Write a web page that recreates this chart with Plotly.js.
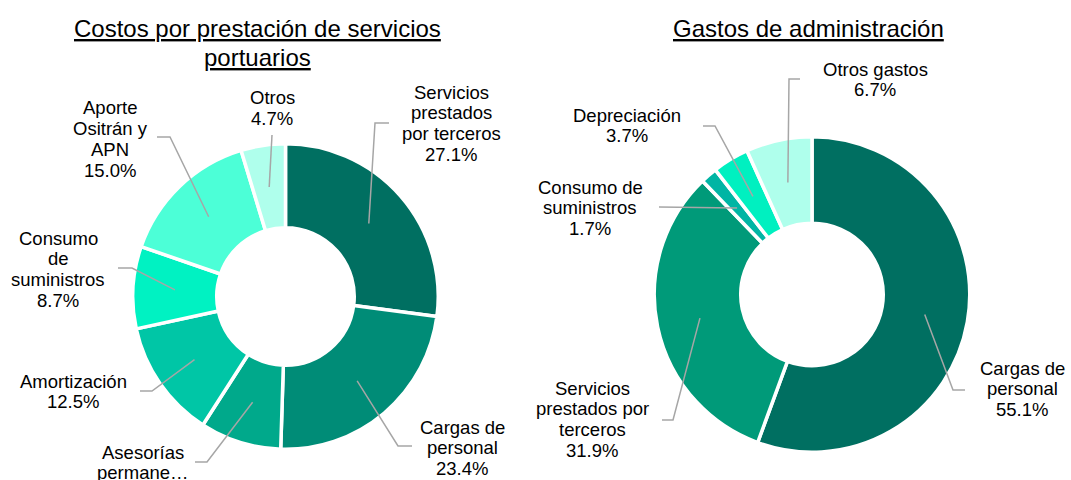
<!DOCTYPE html>
<html>
<head>
<meta charset="utf-8">
<script src="https://cdn.plot.ly/plotly-3.0.1.min.js"></script>
<style>html,body{margin:0;padding:0;background:#fff;}#chart{width:1071px;height:480px;}</style>
</head>
<body>
<div id="chart"></div>
<script>
// ---- Data ----
const leftTitle = ['Costos por prestación de servicios', 'portuarios'];
const leftCategories = ['Servicios prestados por terceros', 'Cargas de personal', 'Asesorías permanentes', 'Amortización', 'Consumo de suministros', 'Aporte Ositrán y APN', 'Otros'];
const leftValues = [27.1, 23.4, 8.6, 12.5, 8.7, 15.0, 4.7];
const leftLabelText = ['Servicios<br>prestados<br>por terceros', 'Cargas de<br>personal', 'Asesorías<br>permane…', 'Amortización', 'Consumo<br>de<br>suministros', 'Aporte<br>Ositrán y<br>APN', 'Otros'];

const rightTitle = ['Gastos de administración'];
const rightCategories = ['Cargas de personal', 'Servicios prestados por terceros', 'Consumo de suministros', 'Depreciación', 'Otros gastos'];
const rightValues = [55.1, 31.9, 1.7, 3.7, 6.7];
const rightLabelText = ['Cargas de<br>personal', 'Servicios<br>prestados por<br>terceros', 'Consumo de<br>suministros', 'Depreciación', 'Otros gastos'];

// ---- Styles / layout (pixels) ----
const W = 1071, H = 480;
const leftColors = ['#006F61', '#008C77', '#00A98B', '#00C6A6', '#00F2C2', '#4CFFD7', '#AFFFEC'];
const rightColors = ['#006F61', '#009A79', '#00B5A4', '#00F0C0', '#AFFFEC'];
const GAP = 3.5;
const leftPie = {cx: 285.5, cy: 296.5, r: 151, hole: 70.5};
const rightPie = {cx: 812, cy: 294.5, r: 156, hole: 73};
const leftLabelPos = [[451, 92], [462, 427], [143, 452], [73, 381], [58, 238], [110, 108], [272, 98]];
const leftLeader = [[375, 123, 389, 123], [398, 446, 412, 446], [207, 462, 195, 462], [152, 391, 140, 391], [132, 268, 118, 268], [170, 137, 157, 137], [272, 135, 272, 135]];
const rightLabelPos = [[1022, 368], [592, 388], [590, 187], [627, 115], [875, 69]];
const rightLeader = [[953, 390, 965, 390], [673, 420, 662, 420], [659, 207, 659, 207], [715, 126, 703, 126], [789, 79, 800, 79]];
const LABEL_FONT = 18.5, LABEL_LS = 20.8;
const TITLE_FONT = 24, TITLE_LS = 29;
const FONT = '"Liberation Sans", Arial, sans-serif';

const px = x => x / W;
const py = y => 1 - y / H;

function pieTrace(cats, vals, colors, g) {
  const R = g.r + GAP / 2;
  const hole = (g.hole - GAP / 2) / R;
  return {
    type: 'pie', labels: cats, values: vals, sort: false, direction: 'clockwise', rotation: 0,
    hole: hole, textinfo: 'none', hoverinfo: 'none', showlegend: false,
    marker: {colors: colors, line: {color: '#ffffff', width: GAP}},
    domain: {x: [px(g.cx - R), px(g.cx + R)], y: [py(g.cy + R), py(g.cy - R)]}
  };
}

const annotations = [];
const shapes = [];

function addText(lines, x, y0, ls, size, underline) {
  lines.forEach((t, i) => {
    const y = y0 + i * ls;
    if (y - size * 0.4 > H) return; // line lies entirely below the picture (clipped in the original too)
    annotations.push({
      xref: 'paper', yref: 'paper', x: px(x), y: py(y), xanchor: 'center', yanchor: 'middle',
      text: underline ? '<u>' + t + '</u>' : t, showarrow: false,
      font: {family: FONT, size: size, color: '#000000'}
    });
  });
}

function addLabels(vals, texts, pos, leaders, g) {
  const total = vals.reduce((a, b) => a + b, 0);
  let cum = 0;
  vals.forEach((v, i) => {
    const mid = (cum + v / 2) / total * 2 * Math.PI;
    cum += v;
    const rr = (g.r + g.hole) / 2;
    const ax = g.cx + rr * Math.sin(mid), ay = g.cy - rr * Math.cos(mid);
    const L = leaders[i];
    shapes.push({
      type: 'path', xref: 'paper', yref: 'paper',
      path: `M ${px(ax)},${py(ay)} L ${px(L[0])},${py(L[1])} L ${px(L[2])},${py(L[3])}`,
      line: {color: '#A6A6A6', width: 1.5}
    });
    const lines = texts[i].split('<br>').concat([v.toFixed(1) + '%']);
    addText(lines, pos[i][0], pos[i][1], LABEL_LS, LABEL_FONT, false);
  });
}

addText(leftTitle, 257.5, 28, TITLE_LS, TITLE_FONT, true);
addText(rightTitle, 808.5, 28, TITLE_LS, TITLE_FONT, true);
addLabels(leftValues, leftLabelText, leftLabelPos, leftLeader, leftPie);
addLabels(rightValues, rightLabelText, rightLabelPos, rightLeader, rightPie);

const data = [
  pieTrace(leftCategories, leftValues, leftColors, leftPie),
  pieTrace(rightCategories, rightValues, rightColors, rightPie)
];
const layout = {
  width: W, height: H, margin: {l: 0, r: 0, t: 0, b: 0},
  paper_bgcolor: '#ffffff', plot_bgcolor: '#ffffff',
  showlegend: false, annotations: annotations, shapes: shapes,
  font: {family: FONT, color: '#000000'}
};
Plotly.newPlot('chart', data, layout, {staticPlot: true, displayModeBar: false});
</script>
</body>
</html>
